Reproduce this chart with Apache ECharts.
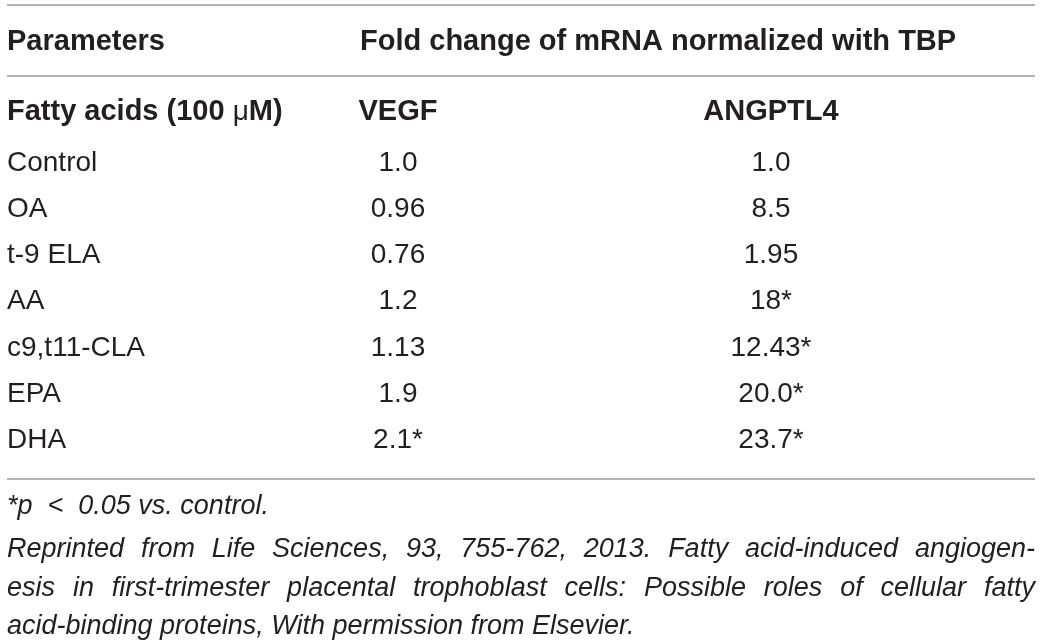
<!DOCTYPE html>
<html>
<head>
<meta charset="utf-8">
<script src="https://cdn.jsdelivr.net/npm/echarts@6/dist/echarts.min.js"></script>
<style>
    html, body { margin: 0; padding: 0; background: #fff; }
    #table { width: 1041px; height: 640px; }
</style>
</head>
<body>
<div id="table"></div>
<script>
// table content
var headLeft = "Parameters";
var headRight = "Fold change of mRNA normalized with TBP";
var subHeads = ["Fatty acids (100 μM)", "VEGF", "ANGPTL4"];
var fattyAcids = ["Control", "OA", "t-9 ELA", "AA", "c9,t11-CLA", "EPA", "DHA"];
var vegf = ["1.0", "0.96", "0.76", "1.2", "1.13", "1.9", "2.1*"];
var angptl4 = ["1.0", "8.5", "1.95", "18*", "12.43*", "20.0*", "23.7*"];
var footLines = [
    "*p  <  0.05 vs. control.",
    "Reprinted from Life Sciences, 93, 755-762, 2013. Fatty acid-induced angiogen-",
    "esis in first-trimester placental trophoblast cells: Possible roles of cellular fatty",
    "acid-binding proteins, With permission from Elsevier."
];
var justified = [false, true, true, false];

var FAMILY = "'Liberation Sans', Arial, Helvetica, sans-serif";
var INK = "#231f20";
var RULE = "#9a9a9a";
var BOLD = 29, BODY = 28, FOOT = 27;

var chart = echarts.init(document.getElementById("table"));
var elements = [];

function text(str, x, y, align, size, weight, style) {
    elements.push({
        type: "text",
        x: x, y: y,
        style: {
            text: str,
            fill: INK,
            font: (style || "normal") + " " + (weight || "normal") + " " + size + "px " + FAMILY,
            textAlign: align || "left",
            textVerticalAlign: "middle"
        }
    });
}

function rule(y) {
    elements.push({
        type: "line",
        shape: { x1: 7, y1: y, x2: 1035, y2: y },
        style: { stroke: RULE, lineWidth: 1.5 }
    });
}

/**
 * 两端对齐的脚注行
 */
function justifyLine(str, y, size) {
    var ctx = document.createElement("canvas").getContext("2d");
    ctx.font = "italic normal " + size + "px " + FAMILY;
    var words = str.split(" ");
    var total = 0, widths = [];
    for (var i = 0; i < words.length; i++) {
        widths.push(ctx.measureText(words[i]).width);
        total += widths[i];
    }
    var gap = (1035 - 7 - total) / (words.length - 1);
    var x = 7;
    for (var j = 0; j < words.length; j++) {
        text(words[j], x, y, "left", size, "normal", "italic");
        x += widths[j] + gap;
    }
}

// rules
rule(5);
rule(76);
rule(479);

// header
text(headLeft, 7, 42, "left", BOLD, "bold");
text(headRight, 360, 42, "left", BOLD, "bold");

// sub header, mu in lighter weight
elements.push({
    type: "text",
    x: 7, y: 112,
    style: {
        text: "{b|Fatty acids (100 }{m|μ}{b|M)}",
        fill: INK,
        textVerticalAlign: "middle",
        rich: {
            b: { font: "bold " + BOLD + "px " + FAMILY, fill: INK },
            m: { font: "normal " + BODY + "px " + FAMILY, fill: INK }
        }
    }
});
text(subHeads[1], 398, 112, "center", BOLD, "bold");
text(subHeads[2], 771, 112, "center", BOLD, "bold");

// body rows
var rowTop = 163, rowStep = 46.2;
for (var r = 0; r < fattyAcids.length; r++) {
    var y = rowTop + r * rowStep;
    text(fattyAcids[r], 7, y, "left", BODY);
    text(vegf[r], 398, y, "center", BODY);
    text(angptl4[r], 771, y, "center", BODY);
}

// footnotes
var footY = [506, 549, 588, 626];
for (var f = 0; f < footLines.length; f++) {
    if (justified[f]) {
        justifyLine(footLines[f], footY[f], FOOT);
    } else {
        text(footLines[f], 7, footY[f], "left", FOOT, "normal", "italic");
    }
}

chart.setOption({
    backgroundColor: "#fff",
    animation: false,
    graphic: { elements: elements }
});
</script>
</body>
</html>
